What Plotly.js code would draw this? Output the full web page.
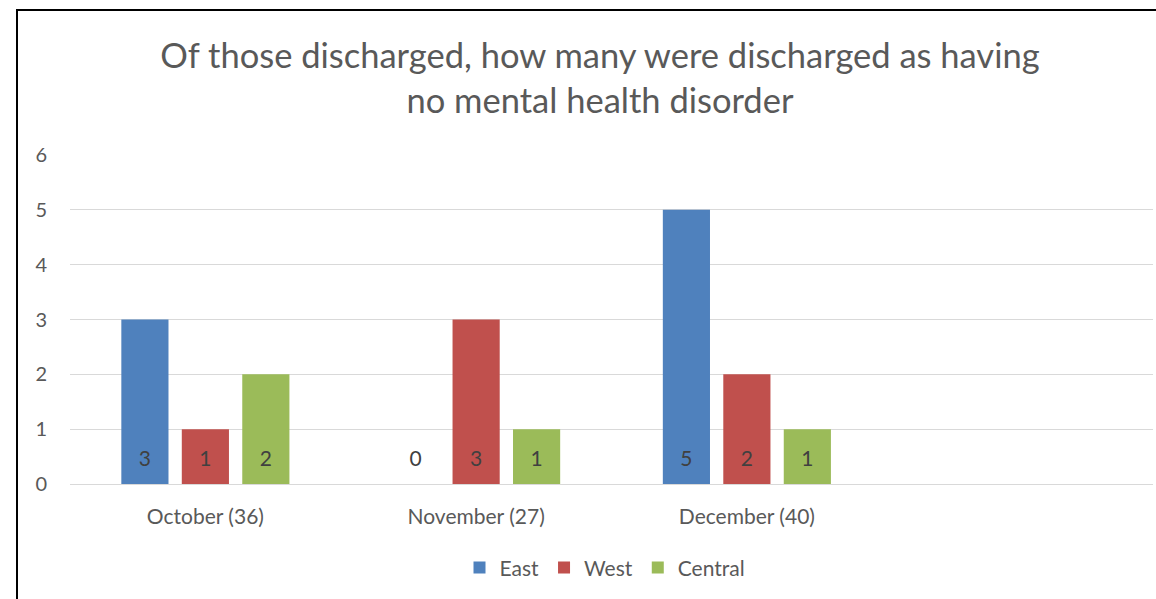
<!DOCTYPE html>
<html>
<head>
<meta charset="utf-8">
<script src="https://cdn.plot.ly/plotly-3.0.1.min.js"></script>
<style>
  html, body { margin: 0; padding: 0; background: #fff; overflow: hidden; }
  #wrap { position: relative; width: 1156px; height: 599px; }
  #chart { width: 1156px; height: 599px; }
  #frame {
    position: absolute; left: 16px; top: 9px; width: 1200px; height: 700px;
    border: 2px solid #000; pointer-events: none; box-sizing: border-box;
  }
</style>
</head>
<body>
<div id="wrap">
  <div id="chart"></div>
  <div id="frame"></div>
</div>
<script>
// Months (total discharges in brackets); the trailing blank slot keeps the layout's empty column
const categories = ['October (36)', 'November (27)', 'December (40)', ' '];
const east = [3, 0, 5, null];
const west = [1, 3, 2, null];
const central = [2, 1, 1, null];
const seriesNames = ['East', 'West', 'Central'];
const seriesColors = ['#4F81BD', '#C0504D', '#9BBB59'];

const FONT = 'Lato, "Open Sans", sans-serif';
const GAP = 0.33;

const seriesValues = [east, west, central];

// Coloured bars
const bars = seriesValues.map((vals, i) => ({
  type: 'bar',
  name: seriesNames[i],
  x: categories,
  y: vals,
  marker: { color: seriesColors[i] },
  hoverinfo: 'x+y+name'
}));

// Value labels sitting at the foot of each bar (grouped the same way as the bars,
// so zero-height bars still get their label)
const labels = seriesValues.map((vals, i) => ({
  type: 'scatter',
  mode: 'markers+text',
  showlegend: false,
  hoverinfo: 'skip',
  x: categories,
  y: vals.map(v => (v === null ? null : 0)),
  text: vals.map(v => (v === null ? '' : String(v))),
  textposition: 'top center',
  textfont: { family: FONT, size: 21, color: '#404040' },
  marker: { size: 19, color: 'rgba(0,0,0,0)' },
  cliponaxis: false
}));

const data = [...bars, ...labels];

const layout = {
  width: 1156,
  height: 599,
  paper_bgcolor: '#fff',
  plot_bgcolor: '#fff',
  margin: { l: 70, r: 3, t: 155, b: 115 },
  font: { family: FONT, color: '#595959', size: 20 },
  title: {
    text: 'Of those discharged, how many were discharged as having<br>no mental health disorder',
    font: { family: FONT, size: 34.5, color: '#595959' },
    x: 0.519, xanchor: 'center',
    y: 0.887, yanchor: 'middle'
  },
  barmode: 'group',
  bargap: GAP,
  bargroupgap: 0.22,
  scattermode: 'group',
  scattergap: GAP,
  xaxis: {
    type: 'category',
    showgrid: false,
    showline: false,
    zeroline: false,
    ticks: '',
    ticklabelstandoff: 18,
    tickfont: { family: FONT, size: 21, color: '#595959' },
    fixedrange: true
  },
  yaxis: {
    range: [0, 6],
    dtick: 1,
    showgrid: true,
    gridcolor: '#D9D9D9',
    gridwidth: 1,
    zeroline: true,
    zerolinecolor: '#D9D9D9',
    zerolinewidth: 1,
    showline: false,
    ticks: '',
    ticklabelstandoff: 22,
    tickfont: { family: FONT, size: 20, color: '#595959' },
    fixedrange: true
  },
  showlegend: true,
  legend: {
    orientation: 'h',
    x: 0.494, xanchor: 'center',
    y: -0.255, yanchor: 'middle',
    font: { family: FONT, size: 21, color: '#595959' },
    itemwidth: 30,
    bgcolor: 'rgba(0,0,0,0)'
  }
};

Plotly.newPlot('chart', data, layout, { displayModeBar: false, staticPlot: true });
</script>
</body>
</html>
